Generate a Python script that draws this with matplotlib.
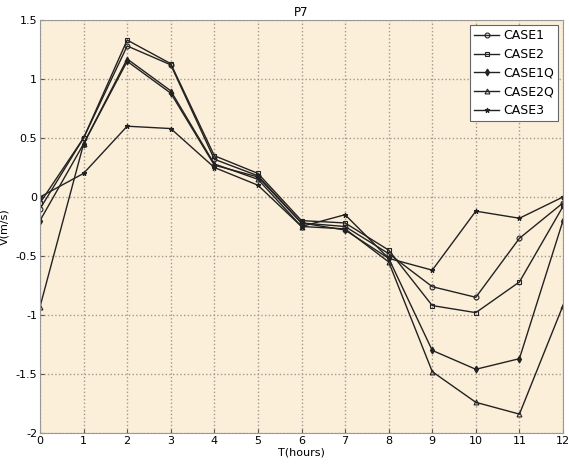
import matplotlib.pyplot as plt
import numpy as np

hours = np.arange(0, 13)
case1 = [-0.10, 0.50, 1.28, 1.12, 0.32, 0.18, -0.22, -0.25, -0.48, -0.76, -0.85, -0.35, -0.05]
case2 = [-0.05, 0.50, 1.33, 1.13, 0.35, 0.20, -0.20, -0.22, -0.45, -0.92, -0.98, -0.72, -0.08]
case1q = [-0.20, 0.45, 1.15, 0.88, 0.27, 0.17, -0.22, -0.28, -0.52, -1.30, -1.46, -1.37, -0.20]
case2q = [-0.93, 0.45, 1.17, 0.90, 0.28, 0.15, -0.25, -0.27, -0.55, -1.48, -1.74, -1.84, -0.92]
case3 = [0.00, 0.20, 0.60, 0.58, 0.25, 0.10, -0.25, -0.15, -0.52, -0.62, -0.12, -0.18, 0.00]

series = [
    ("CASE1", case1, "o"),
    ("CASE2", case2, "s"),
    ("CASE1Q", case1q, "d"),
    ("CASE2Q", case2q, "^"),
    ("CASE3", case3, "*"),
]

fig = plt.figure(figsize=(5.69, 4.66), dpi=100)
ax = fig.add_axes([40 / 569, 33 / 466, 523 / 569, 413 / 466])
ax.set_facecolor("#FCEFDA")

for name, vals, m in series:
    ax.plot(hours, vals, color="#222222", lw=1.0, marker=m, ms=3.5,
            mfc="none" if m in ("o", "s", "^") else "#222222", mec="#222222",
            mew=0.8, label=name)

ax.set_xlim(0, 12)
ax.set_ylim(-2, 1.5)
ax.set_xticks(range(0, 13))
ax.set_yticks([-2, -1.5, -1, -0.5, 0, 0.5, 1, 1.5])
ax.set_yticklabels(["-2", "-1.5", "-1", "-0.5", "0", "0.5", "1", "1.5"])
ax.grid(True, linestyle=":", color="#a09a8c", lw=1.0)
ax.tick_params(labelsize=8, color="#555555", direction="in", length=3, pad=2)
for sp in ax.spines.values():
    sp.set_color("#999999")

ax.set_title("P7", fontsize=8.5, pad=3)
ax.set_xlabel("T(hours)", fontsize=8, labelpad=1)
ax.set_ylabel("V(m/s)", fontsize=8)
ax.yaxis.set_label_coords(-0.058, 0.5)
leg = ax.legend(loc="upper right", fontsize=9, fancybox=False, framealpha=1,
                edgecolor="#666666", handlelength=2.0, borderpad=0.35,
                labelspacing=0.45, handletextpad=0.3, borderaxespad=0.4)
leg.get_frame().set_linewidth(0.8)
leg.get_frame().set_facecolor("white")

fig.savefig("out.png", dpi=100)
